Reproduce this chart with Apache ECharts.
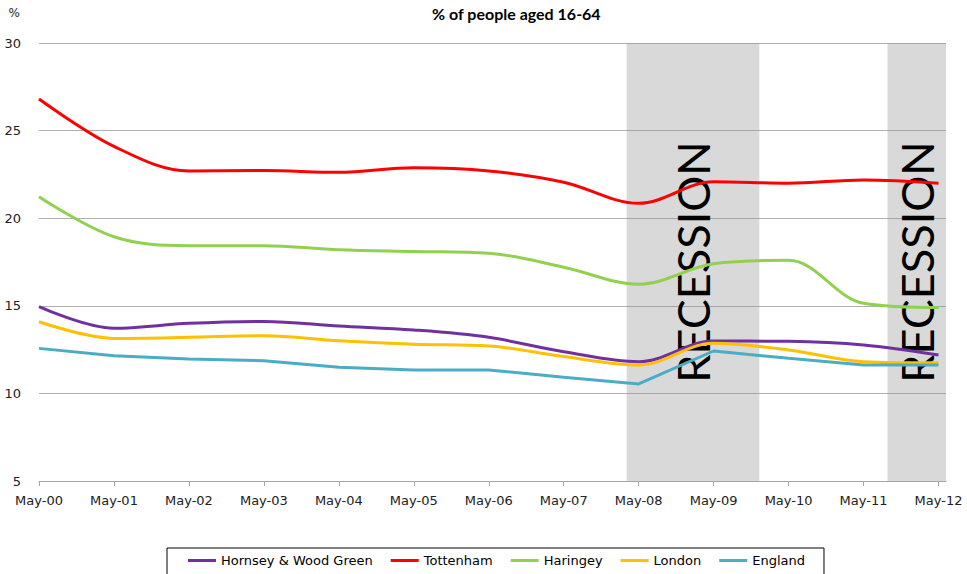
<!DOCTYPE html>
<html>
<head>
<meta charset="utf-8">
<script src="https://cdn.jsdelivr.net/npm/echarts@6/dist/echarts.min.js"></script>
<style>
  html, body { margin: 0; padding: 0; background: #fff; }
  #chart { width: 967px; height: 574px; }
</style>
</head>
<body>
<div id="chart"></div>
<script>
// x positions are years since May-2000 (0 = May-00)
const tickLabels = ['May-00', 'May-01', 'May-02', 'May-03', 'May-04', 'May-05', 'May-06',
  'May-07', 'May-08', 'May-09', 'May-10', 'May-11', 'May-12'];

const hornsey = [14.95, 13.72, 14.0, 14.11, 13.85, 13.62, 13.2, 12.38, 11.81, 12.99, 12.97, 12.76, 12.19];
const tottenham = [26.8, 24.1, 22.7, 22.72, 22.62, 22.88, 22.7, 22.05, 20.85, 22.08, 22.0, 22.18, 22.0];
const haringey = [21.23, 18.94, 18.43, 18.43, 18.2, 18.1, 18.0, 17.2, 16.23, 17.4, 17.6, 15.14, 14.9];
const london = [14.09, 13.14, 13.2, 13.29, 13.0, 12.8, 12.71, 12.1, 11.62, 12.86, 12.48, 11.81, 11.75];
const england = [12.57, 12.15, 11.96, 11.87, 11.49, 11.34, 11.34, 10.92, 10.54, 12.42, 12.0, 11.62, 11.62];

// recession periods, in years since May-00
const recessionBands = [[7.84, 9.61], [11.32, 12.1]];

const toPairs = (arr) => arr.map((v, i) => [i, v]);

const lineSeries = (name, values, color, smooth) => ({
  name,
  type: 'line',
  data: toPairs(values),
  smooth: smooth ? 0.35 : false,
  showSymbol: false,
  lineStyle: { color, width: 3 },
  itemStyle: { color },
  emphasis: { disabled: true },
});

const chart = echarts.init(document.getElementById('chart'), null, { renderer: 'svg' });

chart.setOption({
  animation: false,
  title: {
    text: '% of people aged 16-64',
    left: 427,
    top: 0,
    textStyle: { fontFamily: 'Lato', fontWeight: 'bold', fontSize: 16, color: '#000' },
  },
  grid: { left: 39, right: 21, top: 43, bottom: 93, containLabel: false },
  legend: {
    data: ['Hornsey & Wood Green', 'Tottenham', 'Haringey', 'London', 'England'],
    left: 167,
    top: 548,
    padding: [6, 19, 8, 21],
    itemGap: 18,
    itemWidth: 28,
    itemHeight: 3,
    icon: 'rect',
    borderColor: '#000',
    borderWidth: 1,
    borderRadius: 0,
    textStyle: { fontFamily: 'DejaVu Sans', fontSize: 13, color: '#000' },
  },
  xAxis: {
    type: 'value',
    min: 0,
    max: 12.1,
    splitLine: { show: false },
    axisLine: { lineStyle: { color: '#a6a6a6' } },
    axisTick: { show: true, length: 5, customValues: tickLabels.map((_, i) => i), lineStyle: { color: '#a6a6a6' } },
    axisLabel: {
      customValues: tickLabels.map((_, i) => i),
      formatter: (v) => tickLabels[Math.round(v)] || '',
      fontFamily: 'DejaVu Sans',
      fontSize: 13,
      color: '#222',
      margin: 13,
    },
  },
  yAxis: {
    type: 'value',
    min: 5,
    max: 30,
    interval: 5,
    name: '%',
    nameLocation: 'end',
    nameGap: 24,
    nameTextStyle: { fontFamily: 'DejaVu Sans', fontSize: 12, color: '#222', align: 'right', padding: [0, 19, 0, 0] },
    axisLine: { show: false },
    axisTick: { show: false },
    splitLine: { lineStyle: { color: '#b0b0b0' } },
    axisLabel: { fontFamily: 'DejaVu Sans', fontSize: 13, color: '#222', margin: 18 },
  },
  series: [
    {
      name: 'recession',
      type: 'line',
      data: [],
      silent: true,
      markArea: {
        silent: true,
        itemStyle: { color: 'rgba(150,150,150,0.36)' },
        label: {
          show: true,
          position: 'inside',
          rotate: 90,
          formatter: 'RECESSION',
          fontFamily: 'Lato',
          fontSize: 45,
          color: '#000',
        },
        data: recessionBands.map(([a, b]) => [{ xAxis: a }, { xAxis: b }]),
      },
    },
    lineSeries('Hornsey & Wood Green', hornsey, '#7030A0', true),
    lineSeries('Tottenham', tottenham, '#FF0000', true),
    lineSeries('Haringey', haringey, '#92D050', true),
    lineSeries('London', london, '#FFC000', true),
    lineSeries('England', england, '#4BACC6', false),
  ],
});
</script>
</body>
</html>
